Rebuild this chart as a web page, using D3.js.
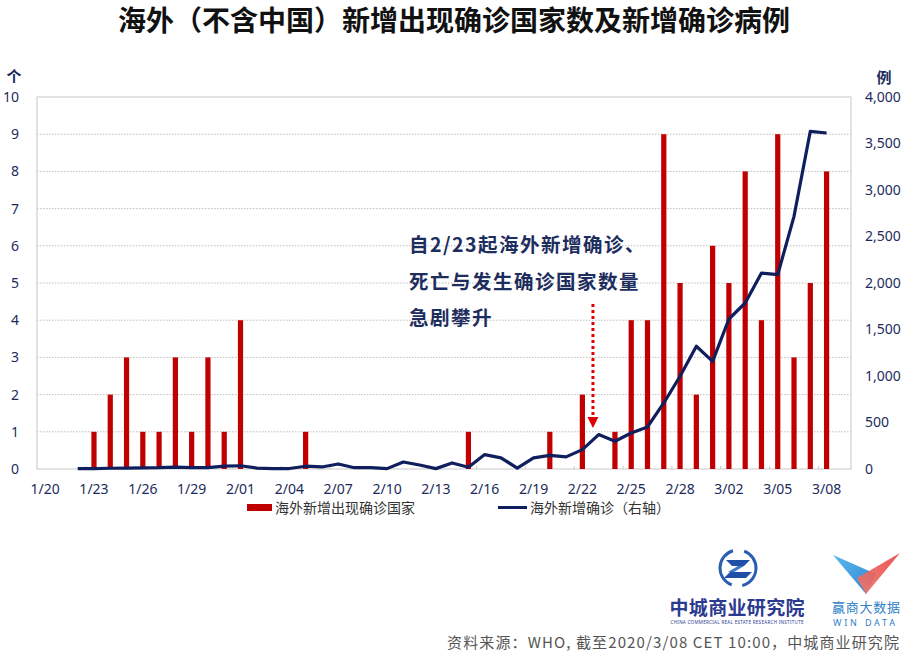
<!DOCTYPE html>
<html><head><meta charset="utf-8">
<script src="https://cdn.jsdelivr.net/npm/d3@7/dist/d3.min.js"></script>
<style>body{margin:0;background:#fff}svg{display:block}</style>
</head><body>
<svg id="c" width="908" height="655"></svg>
<script>
// ---- data ----
const dates = ["1/20","1/21","1/22","1/23","1/24","1/25","1/26","1/27","1/28","1/29","1/30","1/31",
  "2/01","2/02","2/03","2/04","2/05","2/06","2/07","2/08","2/09","2/10","2/11","2/12","2/13","2/14",
  "2/15","2/16","2/17","2/18","2/19","2/20","2/21","2/22","2/23","2/24","2/25","2/26","2/27","2/28",
  "2/29","3/01","3/02","3/03","3/04","3/05","3/06","3/07","3/08","3/09"];
const newCountries = [0,0,0,1,2,3,1,1,3,1,3,1,
  4,0,0,0,1,0,0,0,0,0,0,0,0,0,
  1,0,0,0,0,1,0,2,0,1,4,4,9,5,
  2,6,5,8,4,9,3,5,8,null];
const newCases = [null,null,3,5,8,10,12,14,20,15,15,30,
  35,10,5,5,30,22,54,14,14,4,75,43,4,65,
  18,155,120,10,120,147,130,208,370,298,387,452,710,997,
  1320,1158,1613,1785,2107,2090,2717,3631,3613,null];
const xTickLabels = ["1/20","1/23","1/26","1/29","2/01","2/04","2/07","2/10","2/13","2/16","2/19","2/22","2/25","2/28","3/02","3/05","3/08"];
const leftTicks = [0,1,2,3,4,5,6,7,8,9,10];
const rightTicks = [0,500,1000,1500,2000,2500,3000,3500,4000];
const title = "海外（不含中国）新增出现确诊国家数及新增确诊病例";
const seriesNames = ["海外新增出现确诊国家","海外新增确诊（右轴）"];
const noteLines = ["自2/23起海外新增确诊、","死亡与发生确诊国家数量","急剧攀升"];
const source = "资料来源：WHO, 截至2020/3/08 CET 10:00，中城商业研究院";

// ---- layout ----
const L = 37, R = 851, T = 97, B = 469;
const navy = "#1c2b5c", lineCol = "#0f1f5e", red = "#c00000";
const svg = d3.select("#c");
const font = "'Noto Sans','Noto Sans CJK SC',sans-serif";

const x = d3.scaleBand().domain(dates).range([L, R]).padding(0);
const bw = x.bandwidth();
const yL = d3.scaleLinear().domain([0, 10]).range([B, T]);
const yR = d3.scaleLinear().domain([0, 4000]).range([B, T]);

// title
svg.append("text").attr("x", 454).attr("y", 31).attr("text-anchor", "middle")
  .attr("font-family", "'Noto Sans CJK SC',sans-serif").attr("font-weight", 700)
  .attr("font-size", 28).attr("fill", "#111").text(title);

// gridlines
svg.append("g").selectAll("line").data(leftTicks.filter(d => d > 0 && d < 10)).join("line")
  .attr("x1", L).attr("x2", R).attr("y1", d => yL(d)).attr("y2", d => yL(d))
  .attr("stroke", "#bdbdbd").attr("stroke-width", 1).attr("stroke-dasharray", "1.5,1.5");

// frame
svg.append("rect").attr("x", L).attr("y", T).attr("width", R - L).attr("height", B - T)
  .attr("fill", "none").attr("stroke", "#d0d0d0").attr("stroke-width", 1.2);

// small x ticks at category boundaries every 3
svg.append("g").selectAll("line").data(dates.filter((d, i) => i % 3 === 0 && i > 0)).join("line")
  .attr("x1", d => x(d)).attr("x2", d => x(d)).attr("y1", B).attr("y2", B - 3)
  .attr("stroke", "#c8c8c8");

// left axis
const axL = svg.append("g").attr("transform", `translate(${L - 18},0)`)
  .call(d3.axisLeft(yL).tickValues(leftTicks).tickSize(0).tickPadding(0).tickFormat(d3.format("d")));
axL.select(".domain").remove();
axL.selectAll("text").attr("font-family", font).attr("font-size", 14).attr("fill", navy);

// right axis
const axR = svg.append("g").attr("transform", `translate(${R + 14},0)`)
  .call(d3.axisRight(yR).tickValues(rightTicks).tickSize(0).tickPadding(0).tickFormat(d3.format(",")));
axR.select(".domain").remove();
axR.selectAll("text").attr("font-family", font).attr("font-size", 14).attr("fill", navy);

// x axis
const axX = svg.append("g").attr("transform", `translate(0,${B + 12})`)
  .call(d3.axisBottom(x).tickValues(xTickLabels).tickSize(0).tickPadding(3));
axX.select(".domain").remove();
axX.selectAll("text").attr("font-family", font).attr("font-size", 14).attr("fill", navy);

// unit labels
svg.append("text").attr("x", 14).attr("y", 82).attr("text-anchor", "middle")
  .attr("font-family", "'Noto Sans CJK SC',sans-serif").attr("font-weight", 700)
  .attr("font-size", 15).attr("fill", navy).text("个");
svg.append("text").attr("x", 884).attr("y", 83).attr("text-anchor", "middle")
  .attr("font-family", "'Noto Sans CJK SC',sans-serif").attr("font-weight", 700)
  .attr("font-size", 15).attr("fill", navy).text("例");

// bars
const barW = bw * 0.32;
svg.append("g").selectAll("rect").data(dates.map((d, i) => ({d, v: newCountries[i]})).filter(o => o.v))
  .join("rect")
  .attr("x", o => x(o.d) + bw / 2 - barW / 2).attr("width", barW)
  .attr("y", o => yL(o.v)).attr("height", o => yL(0) - yL(o.v)).attr("fill", red);

// line
const line = d3.line().defined(o => o.v != null)
  .x(o => x(o.d) + bw / 2).y(o => yR(o.v));
svg.append("path").datum(dates.map((d, i) => ({d, v: newCases[i]})))
  .attr("d", line).attr("fill", "none").attr("stroke", lineCol).attr("stroke-width", 3.2)
  .attr("stroke-linejoin", "round");

// annotation
const nt = svg.append("g").attr("font-family", "'Noto Sans CJK SC',sans-serif").attr("font-weight", 700)
  .attr("font-size", 19.5).attr("fill", "#1d2d5e");
noteLines.forEach((s, i) => nt.append("text").attr("x", 409).attr("y", 252 + i * 36.5)
  .attr("letter-spacing", 1.5).text(s));

// arrow
const ax = x("2/23") + bw * 0.15;
svg.append("line").attr("x1", ax).attr("x2", ax).attr("y1", 304).attr("y2", 418)
  .attr("stroke", "#e00000").attr("stroke-width", 3).attr("stroke-dasharray", "3,3");
svg.append("path").attr("d", `M${ax - 5.5},417 L${ax + 5.5},417 L${ax},428 Z`).attr("fill", "#e00000");

// legend
const lg = svg.append("g").attr("font-family", "'Noto Sans CJK SC',sans-serif").attr("font-size", 14).attr("fill", "#333");
lg.append("rect").attr("x", 247).attr("y", 504).attr("width", 25).attr("height", 7).attr("fill", red);
lg.append("text").attr("x", 275).attr("y", 513).text(seriesNames[0]);
lg.append("line").attr("x1", 498).attr("x2", 527).attr("y1", 507.5).attr("y2", 507.5)
  .attr("stroke", lineCol).attr("stroke-width", 3);
lg.append("text").attr("x", 530).attr("y", 513).text(seriesNames[1]);

// logo 1 (中城商业研究院)
const lg1 = svg.append("g");
lg1.append("path").attr("d", d3.arc()({innerRadius: 16.5, outerRadius: 19.5, startAngle: 0.35, endAngle: 2.9}))
  .attr("transform", "translate(738,568)").attr("fill", "#2a5fb0");
lg1.append("path").attr("d", d3.arc()({innerRadius: 16.5, outerRadius: 19.5, startAngle: 3.5, endAngle: 6.0}))
  .attr("transform", "translate(738,568)").attr("fill", "#2a5fb0");
lg1.append("path").attr("d", "M726,560 L750,560 L744,566 L732,566 Z").attr("fill", "#1f4fa8");
lg1.append("path").attr("d", "M744,566 L734,572 L728,572 L738,566 Z").attr("fill", "#3a78c9");
lg1.append("path").attr("d", "M730,572 L752,572 L746,578 L724,578 Z").attr("fill", "#1f4fa8");
lg1.append("text").attr("x", 737).attr("y", 615).attr("text-anchor", "middle")
  .attr("font-family", "'Noto Sans CJK SC',sans-serif").attr("font-weight", 700)
  .attr("font-size", 19).attr("textLength", 135).attr("fill", "#2b3a8f").text("中城商业研究院");
lg1.append("text").attr("x", 737).attr("y", 624).attr("text-anchor", "middle")
  .attr("font-family", font).attr("font-size", 4.5).attr("textLength", 133).attr("fill", "#2b3a8f")
  .text("CHINA COMMERCIAL REAL ESTATE RESEARCH INSTITUTE");

// logo 2 (赢商大数据)
const defs = svg.append("defs");
const gb = defs.append("linearGradient").attr("id", "gb").attr("x1", "0").attr("y1", "0").attr("x2", "1").attr("y2", "1");
gb.append("stop").attr("offset", "0").attr("stop-color", "#5ab8ec");
gb.append("stop").attr("offset", "1").attr("stop-color", "#2f86d6");
const gr = defs.append("linearGradient").attr("id", "gr").attr("x1", "1").attr("y1", "0").attr("x2", "0").attr("y2", "1");
gr.append("stop").attr("offset", "0").attr("stop-color", "#e8454a");
gr.append("stop").attr("offset", "1").attr("stop-color", "#f07a6a");
svg.append("path").attr("d", "M833,555 L876,574 L866,594 Z").attr("fill", "url(#gb)");
svg.append("path").attr("d", "M900,553 L866,594 L857,578 Z").attr("fill", "url(#gr)").attr("opacity", 0.92);
svg.append("text").attr("x", 866).attr("y", 611.5).attr("text-anchor", "middle")
  .attr("font-family", "'Noto Sans CJK SC',sans-serif").attr("font-size", 13).attr("textLength", 68)
  .attr("fill", "#2f7fc8").text("赢商大数据");
svg.append("text").attr("x", 866).attr("y", 625.5).attr("text-anchor", "middle")
  .attr("font-family", font).attr("font-size", 9).attr("textLength", 66).attr("letter-spacing", 4)
  .attr("fill", "#2f7fc8").text("WIN DATA");

// source
svg.append("text").attr("x", 899).attr("y", 648).attr("text-anchor", "end")
  .attr("font-family", "'Noto Sans CJK SC',sans-serif").attr("font-size", 15).attr("fill", "#555")
  .attr("textLength", 452).attr("lengthAdjust", "spacing")
  .text(source);
</script>
</body></html>
